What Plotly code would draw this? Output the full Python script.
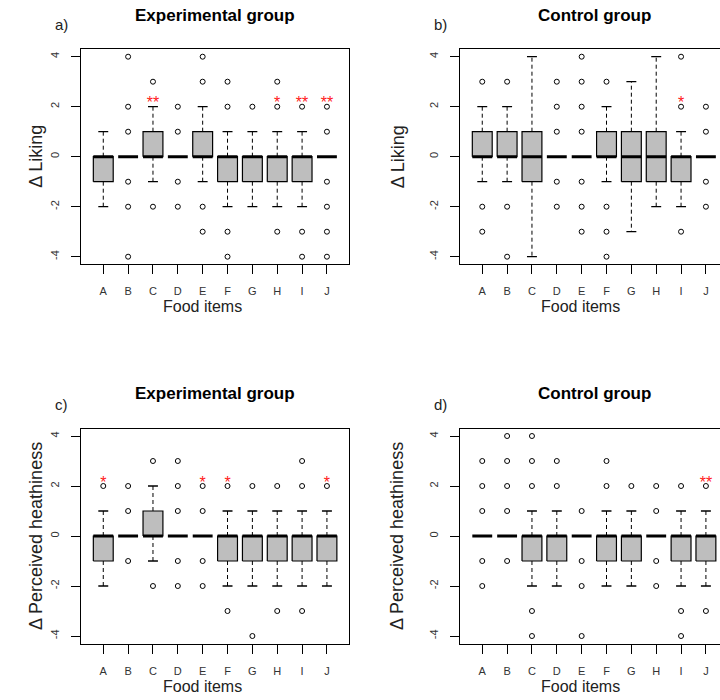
import plotly.graph_objects as go

# ---------------- data ----------------
items = ["A", "B", "C", "D", "E", "F", "G", "H", "I", "J"]
y_ticks = [-4, -2, 0, 2, 4]
y_tick_labels = ["-4", "-2", "0", "2", "4"]

# a) Experimental group - Delta Liking
a_q1 = [-1, 0, 0, 0, 0, -1, -1, -1, -1, 0]
a_med = [0, 0, 0, 0, 0, 0, 0, 0, 0, 0]
a_q3 = [0, 0, 1, 0, 1, 0, 0, 0, 0, 0]
a_lo = [-2, 0, -1, 0, -1, -2, -2, -2, -2, 0]
a_hi = [1, 0, 2, 0, 2, 1, 1, 1, 1, 0]
a_out = [[], [4, 2, 1, -1, -2, -4], [3, -2], [2, 1, -1, -2], [4, 3, -2, -3],
         [3, 2, -3, -4], [2], [3, 2, -3], [2, -3, -4], [2, 1, -1, -2, -3, -4]]
a_sig = ["", "", "**", "", "", "", "", "*", "**", "**"]

# b) Control group - Delta Liking
b_q1 = [0, 0, -1, 0, 0, 0, -1, -1, -1, 0]
b_med = [0, 0, 0, 0, 0, 0, 0, 0, 0, 0]
b_q3 = [1, 1, 1, 0, 0, 1, 1, 1, 0, 0]
b_lo = [-1, -1, -4, 0, 0, -1, -3, -2, -2, 0]
b_hi = [2, 2, 4, 0, 0, 2, 3, 4, 1, 0]
b_out = [[3, -2, -3], [3, -2, -4], [], [3, 2, 1, -1, -2], [4, 3, 2, 1, -1, -2, -3],
         [3, -2, -3, -4], [], [], [4, 2, -3], [2, 1, -1, -2]]
b_sig = ["", "", "", "", "", "", "", "", "*", ""]

# c) Experimental group - Delta Perceived healthiness
c_q1 = [-1, 0, 0, 0, 0, -1, -1, -1, -1, -1]
c_med = [0, 0, 0, 0, 0, 0, 0, 0, 0, 0]
c_q3 = [0, 0, 1, 0, 0, 0, 0, 0, 0, 0]
c_lo = [-2, 0, -1, 0, 0, -2, -2, -2, -2, -2]
c_hi = [1, 0, 2, 0, 0, 1, 1, 1, 1, 1]
c_out = [[2], [2, 1, -1], [3, -2], [3, 2, 1, -1, -2], [2, 1, -1, -2],
         [2, -3], [2, -4], [2, -3], [3, 2, -3], [2]]
c_sig = ["*", "", "", "", "*", "*", "", "", "", "*"]

# d) Control group - Delta Perceived healthiness
d_q1 = [0, 0, -1, -1, 0, -1, -1, 0, -1, -1]
d_med = [0, 0, 0, 0, 0, 0, 0, 0, 0, 0]
d_q3 = [0, 0, 0, 0, 0, 0, 0, 0, 0, 0]
d_lo = [0, 0, -2, -2, 0, -2, -2, 0, -2, -2]
d_hi = [0, 0, 1, 1, 0, 1, 1, 0, 1, 1]
d_out = [[3, 2, 1, -1, -2], [4, 3, 2, 1, -1], [4, 3, 2, -3, -4], [3, 2], [1, -1, -2, -4],
         [3, 2], [2], [2, 1, -1, -2], [2, -3, -4], [2, -3]]
d_sig = ["", "", "", "", "", "", "", "", "", "**"]

panel_titles = ["Experimental group", "Control group", "Experimental group", "Control group"]
panel_letters = ["a)", "b)", "c)", "d)"]
y_titles = ["\u0394 Liking", "\u0394 Liking", "\u0394 Perceived heathiness", "\u0394 Perceived heathiness"]
x_title = "Food items"

panels = [
    (a_q1, a_med, a_q3, a_lo, a_hi, a_out, a_sig),
    (b_q1, b_med, b_q3, b_lo, b_hi, b_out, b_sig),
    (c_q1, c_med, c_q3, c_lo, c_hi, c_out, c_sig),
    (d_q1, d_med, d_q3, d_lo, d_hi, d_out, d_sig),
]

# ---------------- layout geometry (pixels) ----------------
W, H = 720, 700
FONT = "Liberation Sans, Arial, Helvetica, sans-serif"
BOX_HALF = 0.4
STAPLE_HALF = 0.2
SIG_Y = 2.1

def px_x(p):
    return p / W

def px_y(p):
    return 1 - p / H

x_domains = [
    [px_x(80.9), px_x(349.3)],
    [px_x(459.9), 1.0],
    [px_x(80.9), px_x(349.3)],
    [px_x(459.9), 1.0],
]
x_ranges = [[0.1, 10.9], [0.1, 10.567], [0.1, 10.9], [0.1, 10.567]]
y_domains = [
    [px_y(264.2), px_y(49.2)],
    [px_y(264.2), px_y(49.2)],
    [px_y(643.5), px_y(428.5)],
    [px_y(643.5), px_y(428.5)],
]
title_pos = [(215, 15), (594, 15), (215, 393.5), (594, 393.5)]
letter_pos = [(61.5, 25), (440, 25), (61.5, 404.5), (440, 404.5)]
ytitle_pos = [(36, 156.7), (397.5, 156.7), (36, 536), (397, 536)]
xtitle_pos = [(202, 306.5), (580, 306.5), (202, 686.5), (580, 686.5)]

fig = go.Figure()
annotations = []

for k, (q1, med, q3, lo, hi, out, sig) in enumerate(panels):
    xa = "x" if k == 0 else f"x{k+1}"
    ya = "y" if k == 0 else f"y{k+1}"
    pos = list(range(1, len(items) + 1))

    wx, wy = [], []
    sx, sy = [], []
    bx, by = [], []
    mx, my = [], []
    ox, oy = [], []
    for i, p in enumerate(pos):
        if hi[i] > q3[i]:
            wx += [p, p, None]; wy += [q3[i], hi[i], None]
        if lo[i] < q1[i]:
            wx += [p, p, None]; wy += [q1[i], lo[i], None]
        sx += [p - STAPLE_HALF, p + STAPLE_HALF, None, p - STAPLE_HALF, p + STAPLE_HALF, None]
        sy += [hi[i], hi[i], None, lo[i], lo[i], None]
        if q3[i] > q1[i]:
            bx += [p - BOX_HALF, p + BOX_HALF, p + BOX_HALF, p - BOX_HALF, p - BOX_HALF, None]
            by += [q1[i], q1[i], q3[i], q3[i], q1[i], None]
        mx += [p - BOX_HALF, p + BOX_HALF, None]
        my += [med[i], med[i], None]
        for v in out[i]:
            ox.append(p); oy.append(v)

    fig.add_trace(go.Scatter(x=wx, y=wy, mode="lines", xaxis=xa, yaxis=ya,
                             line=dict(color="black", width=1, dash="4px,3px"),
                             showlegend=False, hoverinfo="skip"))
    fig.add_trace(go.Scatter(x=sx, y=sy, mode="lines", xaxis=xa, yaxis=ya,
                             line=dict(color="black", width=1.3),
                             showlegend=False, hoverinfo="skip"))
    fig.add_trace(go.Scatter(x=bx, y=by, mode="lines", fill="toself", xaxis=xa, yaxis=ya,
                             fillcolor="#BEBEBE", line=dict(color="black", width=1.2),
                             showlegend=False, hoverinfo="skip"))
    fig.add_trace(go.Scatter(x=mx, y=my, mode="lines", xaxis=xa, yaxis=ya,
                             line=dict(color="black", width=3),
                             showlegend=False, hoverinfo="skip"))
    fig.add_trace(go.Scatter(x=ox, y=oy, mode="markers", xaxis=xa, yaxis=ya,
                             marker=dict(symbol="circle-open", size=5, color="black",
                                         line=dict(width=1, color="black")),
                             showlegend=False, hoverinfo="skip"))
    tx = [p for p, s in zip(pos, sig) if s]
    tt = [s for s in sig if s]
    fig.add_trace(go.Scatter(x=tx, y=[SIG_Y] * len(tx), text=tt, mode="text",
                             xaxis=xa, yaxis=ya, textposition="middle center",
                             textfont=dict(color="#FF2020", size=16, family=FONT),
                             showlegend=False, hoverinfo="skip"))

    xkey = "xaxis" if k == 0 else f"xaxis{k+1}"
    ykey = "yaxis" if k == 0 else f"yaxis{k+1}"
    fig.layout[xkey] = dict(
        domain=x_domains[k], range=x_ranges[k], anchor=ya,
        tickmode="array", tickvals=pos, ticktext=items,
        ticks="outside", ticklen=9, tickwidth=1, tickcolor="black",
        tickfont=dict(size=11, color="#333333", family=FONT),
        ticklabelstandoff=8,
        showline=True, linecolor="black", linewidth=1, mirror=True,
        showgrid=False, zeroline=False, fixedrange=True,
    )
    fig.layout[ykey] = dict(
        domain=y_domains[k], range=[-4.3, 4.3], anchor=xa,
        tickmode="array", tickvals=y_ticks, ticktext=y_tick_labels,
        tickangle=-90,
        ticks="outside", ticklen=9, tickwidth=1, tickcolor="black",
        tickfont=dict(size=11, color="#333333", family=FONT),
        ticklabelstandoff=8,
        showline=True, linecolor="black", linewidth=1, mirror=True,
        showgrid=False, zeroline=False, fixedrange=True,
    )

    tpx, tpy = title_pos[k]
    annotations.append(dict(text="<b>" + panel_titles[k] + "</b>", x=px_x(tpx), y=px_y(tpy),
                            xref="paper", yref="paper", xanchor="center", yanchor="middle",
                            showarrow=False, font=dict(size=17, color="black", family=FONT)))
    lpx, lpy = letter_pos[k]
    annotations.append(dict(text=panel_letters[k], x=px_x(lpx), y=px_y(lpy),
                            xref="paper", yref="paper", xanchor="center", yanchor="middle",
                            showarrow=False, font=dict(size=15, color="#222222", family=FONT)))
    ypx, ypy = ytitle_pos[k]
    annotations.append(dict(text=y_titles[k], x=px_x(ypx), y=px_y(ypy), textangle=-90,
                            xref="paper", yref="paper", xanchor="center", yanchor="middle",
                            showarrow=False, font=dict(size=18, color="#222222", family=FONT)))
    xpx, xpy = xtitle_pos[k]
    annotations.append(dict(text=x_title, x=px_x(xpx), y=px_y(xpy),
                            xref="paper", yref="paper", xanchor="center", yanchor="middle",
                            showarrow=False, font=dict(size=16, color="#222222", family=FONT)))

fig.update_layout(
    width=W, height=H,
    margin=dict(l=0, r=0, t=0, b=0),
    paper_bgcolor="white", plot_bgcolor="white",
    annotations=annotations,
    showlegend=False,
)

fig.write_html("out.html", config={"displayModeBar": False, "staticPlot": True},
               post_script="document.body.style.margin='0';document.body.style.overflow='hidden';")
